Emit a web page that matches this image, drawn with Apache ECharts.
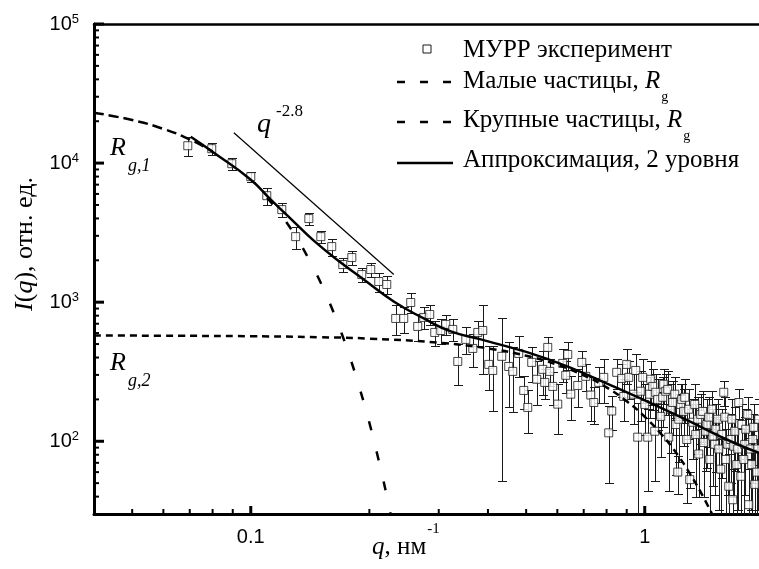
<!DOCTYPE html>
<html>
<head>
<meta charset="utf-8">
<script src="https://cdn.jsdelivr.net/npm/echarts@6/dist/echarts.min.js"></script>
<style>
  html, body { margin: 0; padding: 0; background: #fff; }
  #chart { width: 759px; height: 569px; }
</style>
</head>
<body>
<div id="chart"></div>
<script>
// SAXS intensity I(q) with error bars, two-level unified fit and its Guinier parts
const qExp = [
  0.0692, 0.0796, 0.0895, 0.1000, 0.1098, 0.1199, 0.1300, 0.1404, 0.1506, 0.1605,
  0.1712, 0.1805, 0.1913, 0.2016, 0.2113, 0.2214, 0.2333, 0.2445, 0.2547, 0.2653,
  0.2748, 0.2846, 0.2931, 0.3036, 0.3126, 0.3256, 0.3353, 0.3514, 0.3661, 0.3769,
  0.3880, 0.4018, 0.4113, 0.4335, 0.4516, 0.4623, 0.4788, 0.4931, 0.5047, 0.5166,
  0.5319, 0.5510, 0.5673, 0.5740, 0.5574, 0.5841, 0.6014, 0.6193, 0.6377, 0.6302,
  0.6490, 0.6761, 0.6921, 0.7085, 0.7295, 0.7424, 0.7643, 0.7870, 0.8102, 0.8245,
  0.8490, 0.8744, 0.8846, 0.9000, 0.9108, 0.9377, 0.9488, 0.9599, 0.9769, 0.9884,
  1.0000, 1.0177, 1.0297, 1.0356, 1.0478, 1.0602, 1.0664, 1.0789, 1.0980, 1.1109,
  1.1174, 1.1305, 1.1439, 1.1506, 1.1642, 1.1779, 1.1917, 1.1988, 1.2129, 1.2200,
  1.2343, 1.2413, 1.2560, 1.2634, 1.2782, 1.2933, 1.3008, 1.3238, 1.3395, 1.3472,
  1.3632, 1.3712, 1.3873, 1.4036, 1.4118, 1.4284, 1.4368, 1.4537, 1.4622, 1.4795,
  1.4880, 1.5055, 1.5143, 1.5321, 1.5411, 1.5593, 1.5684, 1.5869, 1.5960, 1.6056,
  1.6243, 1.6339, 1.6532, 1.6630, 1.6727, 1.6825, 1.6924, 1.7123, 1.7219, 1.7325,
  1.7530, 1.7627, 1.7840, 1.7939, 1.8046, 1.8256, 1.8365, 1.8578, 1.8687, 1.8797,
  1.8907, 1.9019, 1.9243, 1.9355, 1.9470
];
const iExp = [
  13330, 12690, 9900, 7990, 5830, 4630, 2960, 3990, 2960, 2510,
  1865, 2094, 1580, 1717, 1408, 1340, 764, 764, 995, 669,
  777, 816, 606, 626, 692, 637, 375, 540, 465, 606,
  626, 357, 323, 408, 345, 318, 428, 232, 175, 369,
  279, 329, 473, 318, 265, 248, 185, 363, 421, 298,
  218, 252, 369, 293, 215, 190, 265, 288, 115, 165,
  313, 283, 210, 357, 288, 218, 323, 107, 229, 288,
  184, 107, 218, 279, 248, 118, 225, 200, 151, 207,
  257, 229, 236, 107, 170, 190, 218, 132, 60, 144,
  184, 200, 164, 207, 103, 170, 53, 137, 184, 112,
  144, 81, 156, 164, 98, 118, 132, 149, 74, 170,
  109, 95, 122, 144, 88, 63, 112, 225, 149, 74,
  95, 47.5, 103, 144, 38, 92, 118, 68, 88, 190,
  56, 132, 74, 95, 122, 156, 35, 88, 68, 103,
  126, 49, 60, 88, 144
];
const errExp = [
  2140, 1320, 1040, 690, 825, 566, 532, 415, 308, 354,
  229, 257, 194, 211, 226, 190, 183, 167, 160, 147,
  139, 131, 121, 125, 111, 114, 122, 118, 121, 121,
  321, 124, 158, 356, 169, 155, 139, 61, 60, 104,
  96, 114, 85, 70, 64, 65, 72, 95, 93, 77,
  75, 77, 74, 64, 75, 57, 75, 100, 65, 45,
  75, 74, 69, 101, 87, 85, 98, 80, 90, 100,
  73, 63, 70, 96, 81, 66, 78, 79, 74, 81,
  72, 74, 82, 63, 87, 79, 70, 75, 18, 73,
  73, 57, 72, 72, 67, 66, 7, 63, 73, 72,
  63, 41, 61, 65, 58, 57, 68, 58, 48, 59,
  61, 54, 62, 56, 56, 40, 58, 45, 58, 48,
  54, 33, 53, 56, 25, 52, 57, 54, 56, 46,
  39, 52, 48, 54, 48, 51, 28, 56, 50, 53,
  58, 38, 43, 56, 56
];

// two-level approximation
const qFit = [0.0704, 0.0806, 0.1, 0.1124, 0.1285, 0.1445, 0.1692, 0.1935, 0.2306, 0.2749,
              0.3219, 0.3836, 0.5608, 0.844, 1.234, 1.673, 1.95];
const iFit = [15470, 11880, 7600, 5462, 3796, 2773, 1928, 1455, 1012, 764,
              616, 540, 394, 244, 149, 98.4, 82.5];

// Guinier term of the large particles (R_g,1): flat head and steep tail
const qLargeHead = [0.04, 0.05, 0.06, 0.07, 0.08];
const iLargeHead = [23010, 20400, 17610, 14800, 12110];
const qLargeTail = [0.11, 0.12, 0.13, 0.14, 0.15, 0.16, 0.17, 0.18, 0.19, 0.20, 0.21, 0.22, 0.23];
const iLargeTail = [5652, 4155, 2975, 2074, 1408, 930, 598, 374, 228, 136, 78, 44, 24];

// Guinier term of the small particles (R_g,2)
const qSmall = [0.04, 0.06, 0.1, 0.15, 0.2, 0.3, 0.4, 0.5, 0.6, 0.7, 0.8, 0.9, 1.0, 1.1, 1.2, 1.3, 1.4, 1.5];
const iSmall = [576, 574, 569, 560, 547, 511, 465, 412, 355, 298, 244, 194, 150, 113, 83, 59, 41, 28];

// power-law guide q^-2.8
const qSlope = [0.0906, 0.2307];
const iSlope = [16520, 1581];

// axis ticks
const xMajorTicks = [0.1, 1];
const xMinorTicks = [0.05, 0.06, 0.07, 0.08, 0.09, 0.2, 0.3, 0.4, 0.5, 0.6, 0.7, 0.8, 0.9];
const yMajorTicks = [100, 1000, 10000, 100000];
const yMinorTicks = [40, 50, 60, 70, 80, 90,
  200, 300, 400, 500, 600, 700, 800, 900,
  2000, 3000, 4000, 5000, 6000, 7000, 8000, 9000,
  20000, 30000, 40000, 50000, 60000, 70000, 80000, 90000];

const X_MIN = 0.04, X_MAX = 1.95, Y_MIN = 30, Y_MAX = 100000;
const SERIF = '"Liberation Serif", "Times New Roman", serif';
const SANS = '"Liberation Sans", Arial, sans-serif';
const INK = '#000';
const MARK = '#1a1a1a';

const pairs = (xs, ys) => xs.map((x, i) => [x, ys[i]]);
const isDecade = v => { const l = Math.log10(v); return Math.abs(l - Math.round(l)) < 1e-6; };

const measureCtx = document.createElement('canvas').getContext('2d');
function textWidth(str, size, style) {
  measureCtx.font = (style || 'normal') + ' ' + size + 'px ' + SERIF;
  return measureCtx.measureText(str).width;
}

function tickSeries(values, dir, len, width) {
  return {
    type: 'custom', silent: true, z: 6,
    data: values.map(v => dir === 'x' ? [v, Y_MIN] : [X_MIN, v]),
    renderItem: (params, api) => {
      const p = api.coord([api.value(0), api.value(1)]);
      const shape = dir === 'x'
        ? { x1: p[0], y1: p[1], x2: p[0], y2: p[1] - len }
        : { x1: p[0], y1: p[1], x2: p[0] + len, y2: p[1] };
      return { type: 'line', shape: shape, style: { stroke: INK, lineWidth: width } };
    }
  };
}

const errorBars = {
  type: 'custom', silent: true, z: 2,
  data: qExp.map((q, i) => [q, iExp[i], errExp[i]]),
  encode: { x: 0, y: 1 },
  renderItem: (params, api) => {
    const q = api.value(0), v = api.value(1), e = api.value(2);
    const lo = v - e;
    const clipped = lo <= Y_MIN;
    const top = api.coord([q, v + e]);
    const bot = api.coord([q, clipped ? Y_MIN : lo]);
    const x = Math.round(top[0]) + 0.5;
    const yt = Math.round(top[1]) + 0.5;
    const yb = Math.round(bot[1]) + 0.5;
    const cap = 4.5;
    const st = { stroke: MARK, lineWidth: 1 };
    const children = [
      { type: 'line', shape: { x1: x, y1: yt, x2: x, y2: yb }, style: st },
      { type: 'line', shape: { x1: x - cap, y1: yt, x2: x + cap, y2: yt }, style: st }
    ];
    if (!clipped) {
      children.push({ type: 'line', shape: { x1: x - cap, y1: yb, x2: x + cap, y2: yb }, style: st });
    }
    return { type: 'group', children: children };
  }
};

function curve(name, xs, ys, width, dash) {
  return {
    name: name, type: 'line', data: pairs(xs, ys), z: 4,
    showSymbol: false, symbol: 'none', smooth: true, silent: true,
    lineStyle: { color: INK, width: width, type: dash || 'solid' }
  };
}

// legend and annotations
const serifRich = {
  n: { fontSize: 25, fontFamily: SERIF, fill: INK },
  i: { fontSize: 25, fontFamily: SERIF, fontStyle: 'italic', fill: INK }
};
function label(x, y, text, size, italic, extra) {
  return Object.assign({
    type: 'text', x: x, y: y, silent: true,
    style: { text: text, fontSize: size, fontFamily: SERIF, fontStyle: italic ? 'italic' : 'normal',
             fill: INK, align: 'left', verticalAlign: 'middle' }
  }, extra || {});
}
function richLabel(x, y, text) {
  return {
    type: 'text', x: x, y: y, silent: true,
    style: { text: text, rich: serifRich, fontSize: 25, fontFamily: SERIF, fill: INK,
             align: 'left', verticalAlign: 'middle' }
  };
}

const LX = 463;
const gSmallX = LX + textWidth('Малые частицы, ', 25) + textWidth('R', 25, 'italic') + 1;
const gLargeX = LX + textWidth('Крупные частицы, ', 25) + textWidth('R', 25, 'italic') + 1;
const rW = textWidth('R', 26, 'italic');
const xTitleW = textWidth('q', 25, 'italic') + textWidth(', нм', 25);

const graphics = [
  // legend
  { type: 'rect', silent: true, shape: { x: 423, y: 45, width: 8, height: 8 },
    style: { fill: '#fff', stroke: MARK, lineWidth: 1 } },
  { type: 'line', silent: true, shape: { x1: 397, y1: 82, x2: 452, y2: 82 },
    style: { stroke: INK, lineWidth: 2.5, lineDash: [8, 15] } },
  { type: 'line', silent: true, shape: { x1: 397, y1: 122, x2: 452, y2: 122 },
    style: { stroke: INK, lineWidth: 2.5, lineDash: [8, 15] } },
  { type: 'line', silent: true, shape: { x1: 397, y1: 163, x2: 453, y2: 163 },
    style: { stroke: INK, lineWidth: 2.5 } },
  label(LX, 50, 'МУРР эксперимент', 25, false),
  richLabel(LX, 81, '{n|Малые частицы, }{i|R}'),
  label(gSmallX, 97, 'g', 14, false),
  richLabel(LX, 120, '{n|Крупные частицы, }{i|R}'),
  label(gLargeX, 136, 'g', 14, false),
  label(LX, 160.5, 'Аппроксимация, 2 уровня', 25, false),

  // annotations
  label(110, 148.5, 'R', 26, true),
  label(110 + rW + 2, 166, 'g,1', 18, true),
  label(110, 363.5, 'R', 26, true),
  label(110 + rW + 2, 381, 'g,2', 18, true),
  label(257, 124.5, 'q', 28, true),
  label(276, 112, '-2.8', 17, false),

  // axis titles
  richLabel(372, 547, '{i|q}{n|, нм}'),
  label(372 + xTitleW + 1, 529, '-1', 15, false),
  {
    type: 'text', x: 25, y: 244, rotation: Math.PI / 2, silent: true,
    style: { text: '{i|I}{n|(}{i|q}{n|), отн. ед.}',
             rich: {
               n: { fontSize: 26, fontFamily: SERIF, fill: INK },
               i: { fontSize: 26, fontFamily: SERIF, fontStyle: 'italic', fill: INK }
             },
             fontSize: 26, fontFamily: SERIF, fill: INK, align: 'center', verticalAlign: 'middle' }
  }
];

const chart = echarts.init(document.getElementById('chart'), null, { renderer: 'canvas' });
chart.setOption({
  animation: false,
  backgroundColor: '#fff',
  grid: { left: 94, top: 24, width: 665, height: 490, containLabel: false, outerBoundsMode: 'none' },
  xAxis: [
    {
      type: 'log', logBase: 10, min: X_MIN, max: X_MAX,
      axisLine: { show: true, onZero: false, lineStyle: { color: INK, width: 3 } },
      axisTick: { show: false }, minorTick: { show: false }, splitLine: { show: false },
      axisLabel: {
        margin: 13, fontSize: 20, fontFamily: SANS, color: INK,
        showMinLabel: true, showMaxLabel: true, hideOverlap: false,
        formatter: v => isDecade(v) ? String(Number(v.toPrecision(1))) : ''
      }
    },
    {
      type: 'log', logBase: 10, min: X_MIN, max: X_MAX, position: 'top',
      axisLine: { show: true, onZero: false, lineStyle: { color: INK, width: 2.5 } },
      axisTick: { show: false }, axisLabel: { show: false }, splitLine: { show: false }
    }
  ],
  yAxis: {
    type: 'log', logBase: 10, min: Y_MIN, max: Y_MAX,
    axisLine: { show: true, onZero: false, lineStyle: { color: INK, width: 3 } },
    axisTick: { show: false }, minorTick: { show: false }, splitLine: { show: false },
    axisLabel: {
      margin: 15, color: INK, fontSize: 20, fontFamily: SANS,
      showMinLabel: true, showMaxLabel: true, hideOverlap: false,
      formatter: v => isDecade(v) ? '{b|10}{s|' + Math.round(Math.log10(v)) + '}' : '',
      rich: {
        b: { fontSize: 20, fontFamily: SANS, color: INK, lineHeight: 22 },
        s: { fontSize: 13, fontFamily: SANS, color: INK, verticalAlign: 'top' }
      }
    }
  },
  series: [
    errorBars,
    {
      name: 'МУРР эксперимент', type: 'scatter', z: 3, silent: true,
      data: pairs(qExp, iExp), symbol: 'rect', symbolSize: 8,
      itemStyle: { color: '#fff', borderColor: MARK, borderWidth: 1 }
    },
    curve('Малые частицы', qSmall, iSmall, 2.5, [7, 5]),
    curve('Крупные частицы', qLargeHead, iLargeHead, 2.5, [10, 5]),
    curve('Крупные частицы (спад)', qLargeTail, iLargeTail, 2.5, [9, 22]),
    curve('Аппроксимация', qFit, iFit, 2.5),
    curve('q^-2.8', qSlope, iSlope, 1.2),
    tickSeries(xMajorTicks, 'x', 8, 3),
    tickSeries(xMinorTicks, 'x', 5, 2),
    tickSeries(yMajorTicks, 'y', 10, 3),
    tickSeries(yMinorTicks, 'y', 5, 2)
  ],
  graphic: { elements: graphics }
});
</script>
</body>
</html>
